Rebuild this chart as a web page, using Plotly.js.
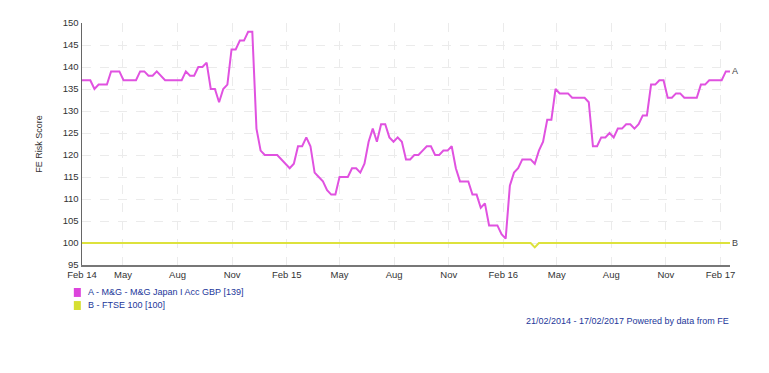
<!DOCTYPE html>
<html>
<head>
<meta charset="utf-8">
<script src="https://cdn.plot.ly/plotly-3.0.1.min.js"></script>
<style>
html,body{margin:0;padding:0;background:#fff;}
#chart{width:769px;height:373px;}
</style>
</head>
<body>
<div id="chart"></div>
<script>
// Fund A: M&G Japan I Acc GBP (weekly vertices)
var fundDates = [
"2014-02-21","2014-03-07","2014-03-14","2014-03-21","2014-04-04","2014-04-11","2014-04-25","2014-05-02",
"2014-05-23","2014-05-30","2014-06-06","2014-06-13","2014-06-20","2014-06-27","2014-07-11","2014-08-08",
"2014-08-15","2014-08-22","2014-08-29","2014-09-05","2014-09-12","2014-09-19","2014-09-26","2014-10-03",
"2014-10-10","2014-10-17","2014-10-24","2014-10-31","2014-11-07","2014-11-14","2014-11-21","2014-11-28",
"2014-12-05","2014-12-12","2014-12-19","2014-12-26","2015-01-16","2015-02-06","2015-02-13","2015-02-20",
"2015-02-27","2015-03-06","2015-03-13","2015-03-20","2015-03-27","2015-04-03","2015-04-10","2015-04-17",
"2015-04-24","2015-05-01","2015-05-15","2015-05-22","2015-05-29","2015-06-05","2015-06-12","2015-06-19",
"2015-06-26","2015-07-03","2015-07-10","2015-07-17","2015-07-24","2015-07-31","2015-08-07","2015-08-14",
"2015-08-21","2015-08-28","2015-09-04","2015-09-11","2015-09-18","2015-09-25","2015-10-02","2015-10-09",
"2015-10-16","2015-10-23","2015-10-30","2015-11-06","2015-11-13","2015-11-20","2015-12-04","2015-12-11",
"2015-12-18","2015-12-25","2016-01-01","2016-01-08","2016-01-22","2016-01-29","2016-02-05","2016-02-12",
"2016-02-19","2016-02-26","2016-03-04","2016-03-18","2016-03-25","2016-04-01","2016-04-08","2016-04-15",
"2016-04-22","2016-04-29","2016-05-06","2016-05-20","2016-05-27","2016-06-17","2016-06-24","2016-07-01",
"2016-07-08","2016-07-15","2016-07-22","2016-07-29","2016-08-05","2016-08-12","2016-08-19","2016-08-26",
"2016-09-02","2016-09-09","2016-09-16","2016-09-23","2016-09-30","2016-10-07","2016-10-14","2016-10-21",
"2016-10-28","2016-11-04","2016-11-11","2016-11-18","2016-11-25","2016-12-02","2016-12-23","2016-12-30",
"2017-01-06","2017-01-13","2017-02-03","2017-02-10","2017-02-17"
];
var fundValues = [
137,137,135,136,136,139,139,137,
137,139,139,138,138,139,137,137,
139,138,138,140,140,141,135,135,
132,135,136,144,144,146,146,148,
148,126,121,120,120,117,118,122,
122,124,122,116,115,114,112,111,
111,115,115,117,117,116,118,123,
126,123,127,127,124,123,124,123,
119,119,120,120,121,122,122,120,
120,121,121,122,117,114,114,111,
111,108,109,104,104,102,101,113,
116,117,119,119,118,121,123,128,
128,135,134,134,133,133,132,122,
122,124,124,125,124,126,126,127,
127,126,127,129,129,136,136,137,
137,133,133,134,134,133,133,136,
136,137,137,139,139
];
// Index B: FTSE 100
var indexDates = ["2014-02-21","2016-03-18","2016-03-25","2016-04-01","2017-02-17"];
var indexValues = [100,100,99,100,100];

var tickVals = ["2014-02-21","2014-05-01","2014-08-01","2014-11-01","2015-02-01","2015-05-01","2015-08-01",
"2015-11-01","2016-02-01","2016-05-01","2016-08-01","2016-11-01","2017-02-01"];
var tickText = ["Feb 14","May","Aug","Nov","Feb 15","May","Aug","Nov","Feb 16","May","Aug","Nov","Feb 17"];

var legendLabels = ["A - M&G - M&G Japan I Acc GBP [139]","B - FTSE 100 [100]"];
var colorA = "#e052e0", colorB = "#dde23c";

var traces = [
  {x: indexDates, y: indexValues, type: "scatter", mode: "lines",
   line: {color: colorB, width: 2}, hoverinfo: "x+y", showlegend: false},
  {x: fundDates, y: fundValues, type: "scatter", mode: "lines",
   line: {color: colorA, width: 2}, hoverinfo: "x+y", showlegend: false}
];

var font = "Liberation Sans, Arial, sans-serif";
var layout = {
  width: 769, height: 373,
  margin: {l: 82, r: 39, t: 23, b: 108},
  paper_bgcolor: "#fff", plot_bgcolor: "#fff",
  font: {family: font, size: 9, color: "#333"},
  showlegend: false,
  xaxis: {
    type: "date", range: ["2014-02-21", "2017-02-17"],
    tickmode: "array", tickvals: tickVals, ticktext: tickText,
    showgrid: true, gridcolor: "#ebebeb", griddash: "dash", gridwidth: 1,
    showline: true, linecolor: "#777", linewidth: 1.5,
    ticks: "", tickfont: {size: 9.5, color: "#333"}, zeroline: false, fixedrange: true
  },
  yaxis: {
    range: [95, 150], dtick: 5, tick0: 95,
    showgrid: true, gridcolor: "#ebebeb", griddash: "dash", gridwidth: 1,
    showline: true, linecolor: "#666", linewidth: 1.5,
    ticks: "", tickfont: {size: 9.5, color: "#333"}, zeroline: false,
    title: {text: "FE Risk Score", font: {size: 9, color: "#333"}, standoff: 18}
  },
  shapes: [
    {type: "rect", xref: "paper", yref: "paper", x0: -0.0126, x1: -0.0018, y0: -0.095, y1: -0.132,
     fillcolor: "#dc44dc", line: {width: 0}},
    {type: "rect", xref: "paper", yref: "paper", x0: -0.0126, x1: -0.0018, y0: -0.149, y1: -0.186,
     fillcolor: "#d6df32", line: {width: 0}}
  ],
  annotations: [
    {xref: "paper", yref: "paper", x: 0.006, y: -0.112, xanchor: "left", yanchor: "middle",
     text: legendLabels[0], showarrow: false, font: {size: 9, color: "#23379a"}},
    {xref: "paper", yref: "paper", x: 0.006, y: -0.167, xanchor: "left", yanchor: "middle",
     text: legendLabels[1], showarrow: false, font: {size: 9, color: "#23379a"}},
    {xref: "paper", yref: "paper", x: 1.002, y: -0.231, xanchor: "right", yanchor: "middle",
     text: "21/02/2014 - 17/02/2017 Powered by data from FE", showarrow: false,
     font: {size: 9, color: "#23379a"}},
    {x: "2017-02-17", y: fundValues[fundValues.length - 1], xanchor: "left", yanchor: "middle",
     xshift: 0, text: "A", showarrow: false, font: {size: 9, color: "#444"}},
    {x: "2017-02-17", y: indexValues[indexValues.length - 1], xanchor: "left", yanchor: "middle",
     xshift: 0, text: "B", showarrow: false, font: {size: 9, color: "#444"}}
  ]
};

Plotly.newPlot("chart", traces, layout, {displayModeBar: false, staticPlot: true});
</script>
</body>
</html>
